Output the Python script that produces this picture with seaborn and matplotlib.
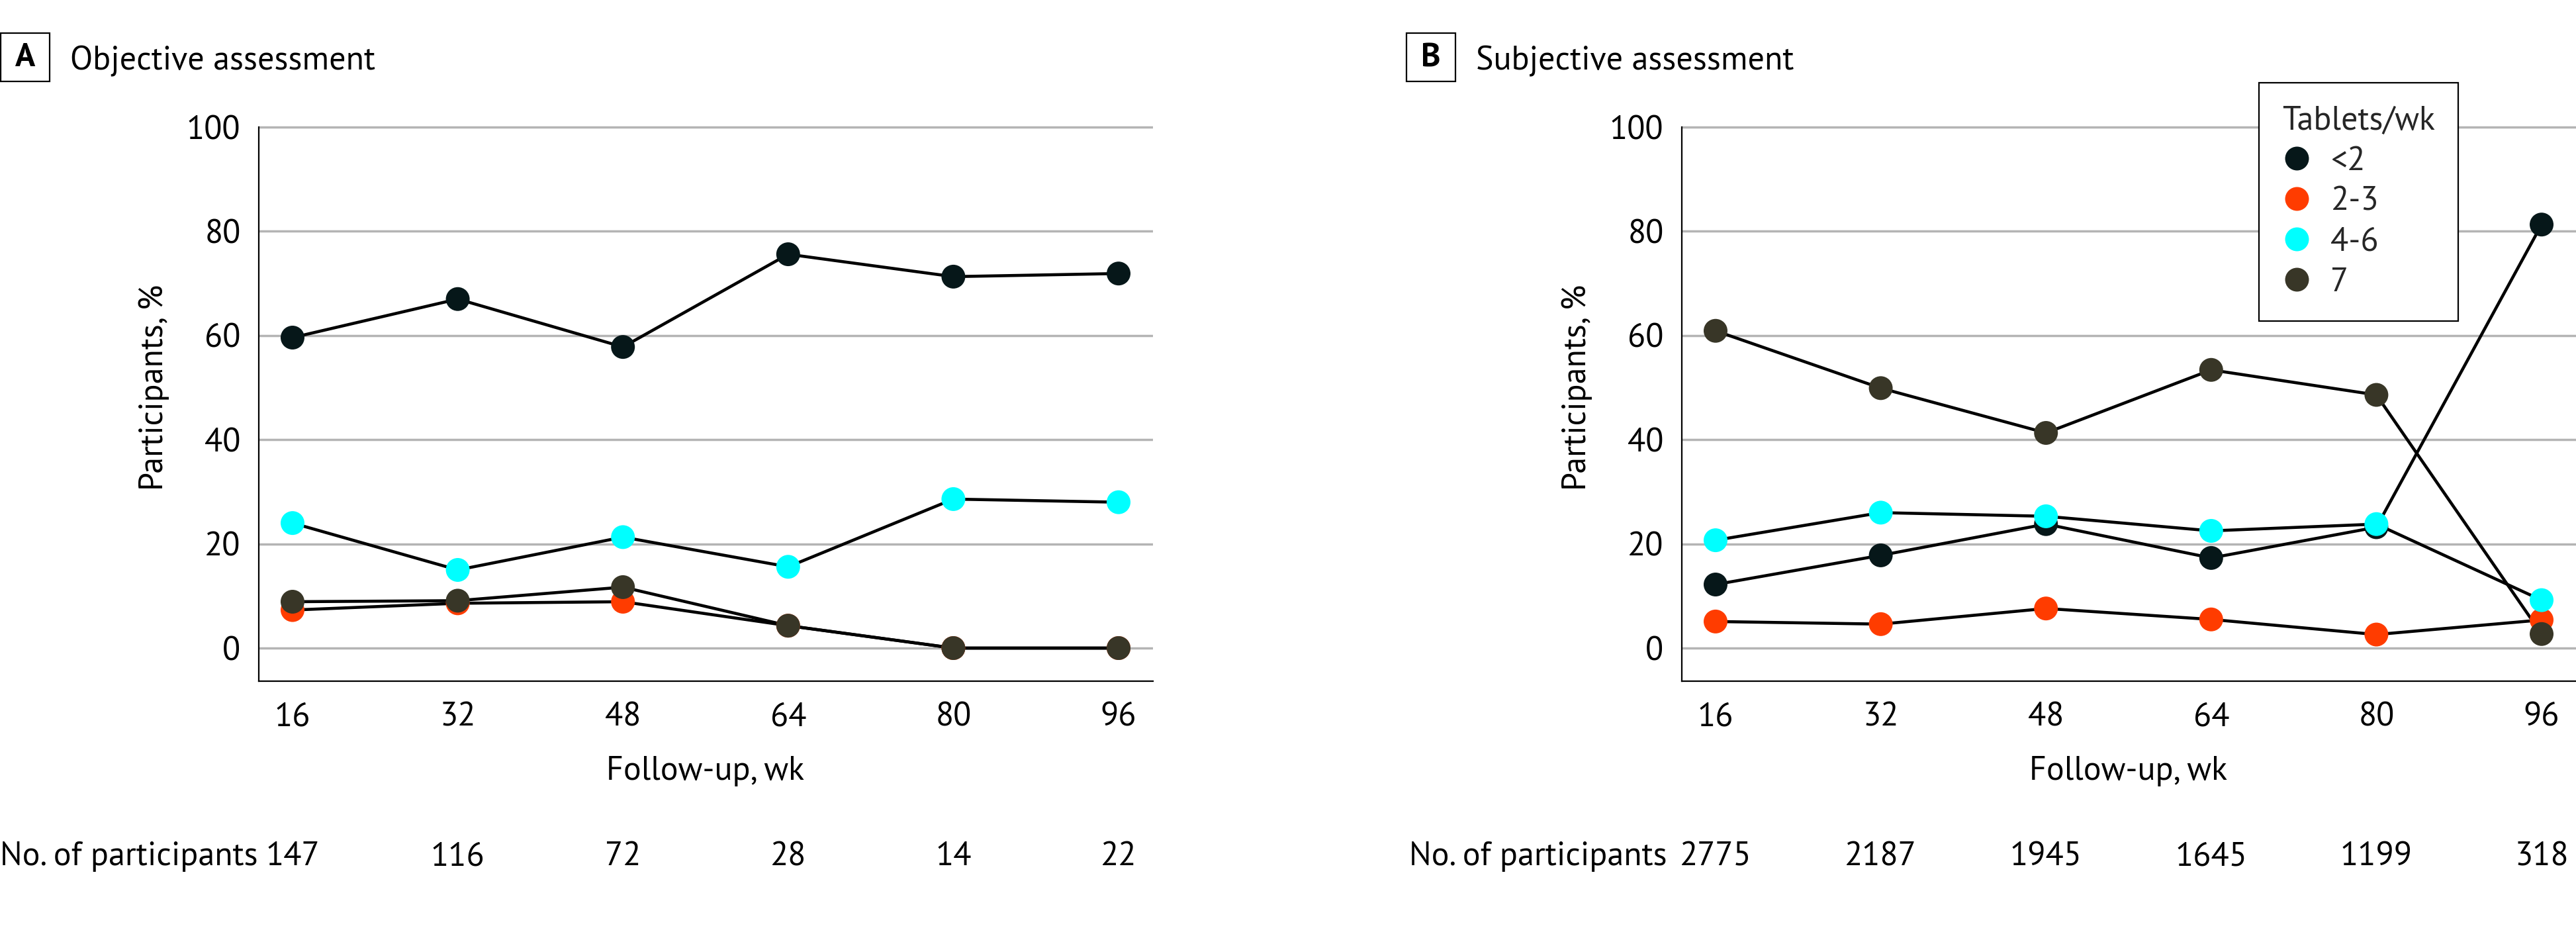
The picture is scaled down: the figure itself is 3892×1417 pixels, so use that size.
import numpy as np
import pandas as pd
import matplotlib
matplotlib.use("Agg")
import matplotlib.pyplot as plt
import matplotlib.font_manager as fm
from matplotlib.patches import Rectangle
from matplotlib.transforms import blended_transform_factory
import seaborn as sns

# ── data ────────────────────────────────────────────────
weeks = [16, 32, 48, 64, 80, 96]
groups = ['<2', '2-3', '4-6', '7']

# A: objective assessment (% participants)
obj_lt2 = [59.6, 67.0, 57.8, 75.6, 71.3, 71.9]
obj_2_3 = [7.3, 8.6, 8.9, 4.3, 0.0, 0.0]
obj_4_6 = [24.0, 15.0, 21.3, 15.6, 28.6, 28.0]
obj_7 = [8.9, 9.1, 11.7, 4.3, 0.0, 0.0]
obj_n = [147, 116, 72, 28, 14, 22]

# B: subjective assessment (% participants)
subj_lt2 = [12.2, 17.8, 23.8, 17.3, 23.2, 81.3]
subj_2_3 = [5.1, 4.6, 7.6, 5.5, 2.6, 5.4]
subj_4_6 = [20.7, 26.0, 25.3, 22.5, 23.8, 9.2]
subj_7 = [60.9, 49.9, 41.3, 53.4, 48.6, 2.7]
subj_n = [2775, 2187, 1945, 1645, 1199, 318]

palette = {'<2': '#061719', '2-3': '#ff3c00', '4-6': '#00ffff', '7': '#383627'}


def to_long(series):
    rows = []
    for g, vals in zip(groups, series):
        for w, v in zip(weeks, vals):
            rows.append({'week': w, 'pct': v, 'group': g})
    return pd.DataFrame(rows)


df_a = to_long([obj_lt2, obj_2_3, obj_4_6, obj_7])
df_b = to_long([subj_lt2, subj_2_3, subj_4_6, subj_7])

# ── style ───────────────────────────────────────────────
sns.set_theme(style='white')


def has_regular_and_bold(name):
    ws = {f.weight for f in fm.fontManager.ttflist
          if f.name == name and f.style == 'normal'}
    return 400 in ws and 700 in ws


# humanist sans close to the original, with a real regular + bold
FONT, FS = 'Lato', 35
for name, size in [('PT Sans', 36), ('Source Sans Pro', 38)]:
    if has_regular_and_bold(name):
        FONT, FS = name, size
        break
plt.rcParams['font.family'] = [FONT, 'DejaVu Sans']

W, H = 3892, 1417
fig = plt.figure(figsize=(W / 100, H / 100), dpi=100)

YMIN, YMAX = -6.3, 100.4
XMIN, XMAX = 12.7, 99.3
ax_bottom = (H - 1028.6) / H
ax_height = (1028.6 - 188.9) / H
ax_width = 1351 / W

ax_a = fig.add_axes([390.5 / W, ax_bottom, ax_width, ax_height])
ax_b = fig.add_axes([2540.5 / W, ax_bottom, ax_width, ax_height])


def draw_panel(ax, df, counts, letter, title, x_px, count_x_px, legend):
    ax.yaxis.grid(True, color='#b4b4b4', lw=2.5)
    ax.set_axisbelow(True)
    sns.lineplot(data=df, x='week', y='pct', units='group', estimator=None,
                 color='black', lw=3.3, sort=False, legend=False, ax=ax, zorder=2)
    sns.scatterplot(data=df, x='week', y='pct', hue='group', hue_order=groups,
                    palette=palette, s=671, linewidth=0, ax=ax, zorder=3,
                    legend=legend)
    ax.set_xlim(XMIN, XMAX)
    ax.set_ylim(YMIN, YMAX)
    ax.set_xticks(weeks)
    ax.set_yticks([0, 20, 40, 60, 80, 100])
    for s in ['top', 'right']:
        ax.spines[s].set_visible(False)
    for s in ['left', 'bottom']:
        ax.spines[s].set_color('black')
        ax.spines[s].set_linewidth(1.6)
    ax.spines['left'].set_bounds(YMIN, 100)
    ax.tick_params(axis='both', direction='out', length=11.5, width=1.5,
                   color='black', labelsize=FS, labelcolor='black')
    ax.tick_params(axis='y', pad=8)
    ax.tick_params(axis='x', pad=11.5)
    ax.set_xlabel('Follow-up, wk', fontsize=FS, color='black')
    ax.set_ylabel('Participants, %', fontsize=FS, color='black')
    ax.xaxis.set_label_coords(0.5, -0.135)
    ax.yaxis.set_label_coords(-0.0996, (50 - YMIN) / (YMAX - YMIN))

    # panel letter + title
    fig.add_artist(Rectangle((x_px / W, (H - 123) / H), 74 / W, 73 / H,
                             transform=fig.transFigure, fill=False,
                             edgecolor='black', lw=1.6))
    fig.text((x_px + 37) / W, (H - 88) / H, letter, ha='center', va='center',
             fontsize=FS, fontweight='bold', color='black')
    fig.text((x_px + 105) / W, (H - 105) / H, title, ha='left', va='baseline',
             fontsize=FS, color='black')

    # numbers at risk
    fig.text(count_x_px / W, (H - 1307) / H, 'No. of participants', ha='left',
             va='baseline', fontsize=FS, color='black')
    trans = blended_transform_factory(ax.transData, fig.transFigure)
    for w, n in zip(weeks, counts):
        ax.text(w, (H - 1307) / H, str(n), transform=trans, ha='center',
                va='baseline', fontsize=FS, color='black', clip_on=False)


draw_panel(ax_a, df_a, obj_n, 'A', 'Objective assessment', 1, 0, False)
draw_panel(ax_b, df_b, subj_n, 'B', 'Subjective assessment', 2125, 2129, True)

handles, labels = ax_b.get_legend_handles_labels()
leg = ax_b.legend(handles, labels, title='Tablets/wk', loc='upper left',
                  bbox_to_anchor=(0.6458, 1.0761), borderaxespad=0,
                  frameon=True, fancybox=False, framealpha=1, edgecolor='black',
                  fontsize=FS, title_fontsize=FS, handlelength=0.9,
                  handletextpad=0.57, labelspacing=0.3, borderpad=0.7,
                  alignment='left')
leg.get_frame().set_linewidth(1.6)
leg.set_zorder(5)

fig.savefig('out.png', dpi=100, facecolor='white')
